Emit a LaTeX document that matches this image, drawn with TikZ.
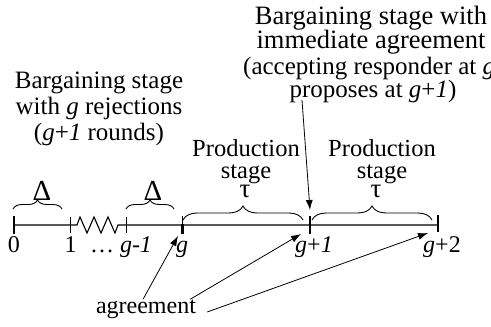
\documentclass[tikz,border=0pt]{standalone}
\usepackage{fontspec}
\setmainfont{Liberation Serif}
\usetikzlibrary{decorations.pathreplacing,arrows.meta,calc}
\begin{document}
\begin{tikzpicture}[x=1pt,y=-1pt,
  txt/.style={font=\fontsize{25}{26}\selectfont, inner sep=0pt, align=center},
  prodtxt/.style={font=\fontsize{24.5}{22}\selectfont, inner sep=0pt, align=center},
  bigtxt/.style={font=\fontsize{26.5}{24.5}\selectfont, inner sep=0pt, align=center},
  midtxt/.style={font=\fontsize{25}{25}\selectfont, inner sep=0pt},
  symb/.style={font=\fontsize{#1}{#1}\selectfont, inner sep=0pt},
  ticklbl/.style={font=\fontsize{24}{24}\selectfont, inner sep=0pt, anchor=base},
  axis/.style={line width=1.1pt},
  thintick/.style={line width=0.8pt},
  boldtick/.style={line width=2.6pt},
  bracket/.style={decorate, line width=0.9pt,
    decoration={brace, amplitude=#1}},
  arr/.style={line width=0.8pt, -{Latex[length=10pt,width=7pt]}}
]
\useasboundingbox (0,0) rectangle (491,327);

% tick positions on the time line
\coordinate (t0) at (14,225);
\coordinate (t1) at (70.5,225);
\coordinate (tg1) at (126,225);
\coordinate (tg) at (182.5,225);
\coordinate (tgp1) at (310,225);
\coordinate (tgp2) at (438,225);

% time line with a zigzag break between 1 and g-1
\draw[axis] (t0) -- (t1) -- (77,225) -- (80,217) -- (87,233) -- (94,217)
  -- (101,233) -- (108,217) -- (115,233) -- (118,225) -- (tgp2);

% ticks
\draw[boldtick] (14,216) -- (14,234);
\draw[thintick] (70.5,217) -- (70.5,233);
\draw[thintick] (126,217) -- (126,233);
\draw[thintick] (182.5,216) -- (182.5,225);
\draw[boldtick] (182.5,224) -- (182.5,234);
\draw[boldtick] (310,216) -- (310,234);
\draw[boldtick] (438,215) -- (438,232);

% tick labels
\node[ticklbl] (l0) at (14,252) {0};
\node[ticklbl] (l1) at (70.5,252) {1};
\node[ticklbl] (lg1) at (121,252) {\dots\ \textit{g-1}};
\node[ticklbl] (lg) at (182,252) {\textit{g}};
\node[ticklbl] (lgp1) at (314,252) {\textit{g}+\textit{1}};
\node[ticklbl] (lgp2) at (442,252) {\textit{g}+2};

% braces over the periods
\draw[bracket=9pt] (13,209) -- (62,209);
\draw[bracket=9pt] (126,209) -- (174,209);
\draw[bracket=14pt] (183,220) -- (303,220);
\draw[bracket=14pt] (312,220) -- (432,220);

\node[symb=29] (d1) at (42,191) {Δ};
\node[symb=29] (d2) at (153,191) {Δ};
\node[symb=27] (tau1) at (245,191) {τ};
\node[symb=27] (tau2) at (376,191) {τ};

% stage captions
\node[prodtxt] (prod1) at (246,162) {Production\\stage};
\node[prodtxt] (prod2) at (382,162) {Production\\stage};
\node[txt] (barg) at (99,109) {Bargaining stage\\with \textit{g} rejections\\(\textit{g}+\textit{1} rounds)};
\node[bigtxt] (imm) at (371,30) {Bargaining stage with\\immediate agreement};
\node[midtxt, anchor=base west] (resp1) at (243,74) {(accepting responder at \textit{g}};
\node[midtxt, anchor=base] (resp2) at (373,97) {proposes at \textit{g}+\textit{1})};

% agreement pointers
\node[ticklbl] (agr) at (146,313) {agreement};
\coordinate (pg) at (178,236);
\coordinate (pgp1) at (301,234);
\coordinate (pgp2) at (428,233);
\draw[arr] ($(agr.north)+(-3,0)$) -- (pg);
\draw[arr] ($(agr.north east)+(-6,0)$) -- (pgp1);
\draw[arr] ($(agr.base east)+(11,-1)$) -- (pgp2);

% pointer to the start of the second production stage
\coordinate (top) at (302,100);
\coordinate (meet) at (310,210);
\draw[arr] (top) -- (meet);
\end{tikzpicture}
\end{document}
